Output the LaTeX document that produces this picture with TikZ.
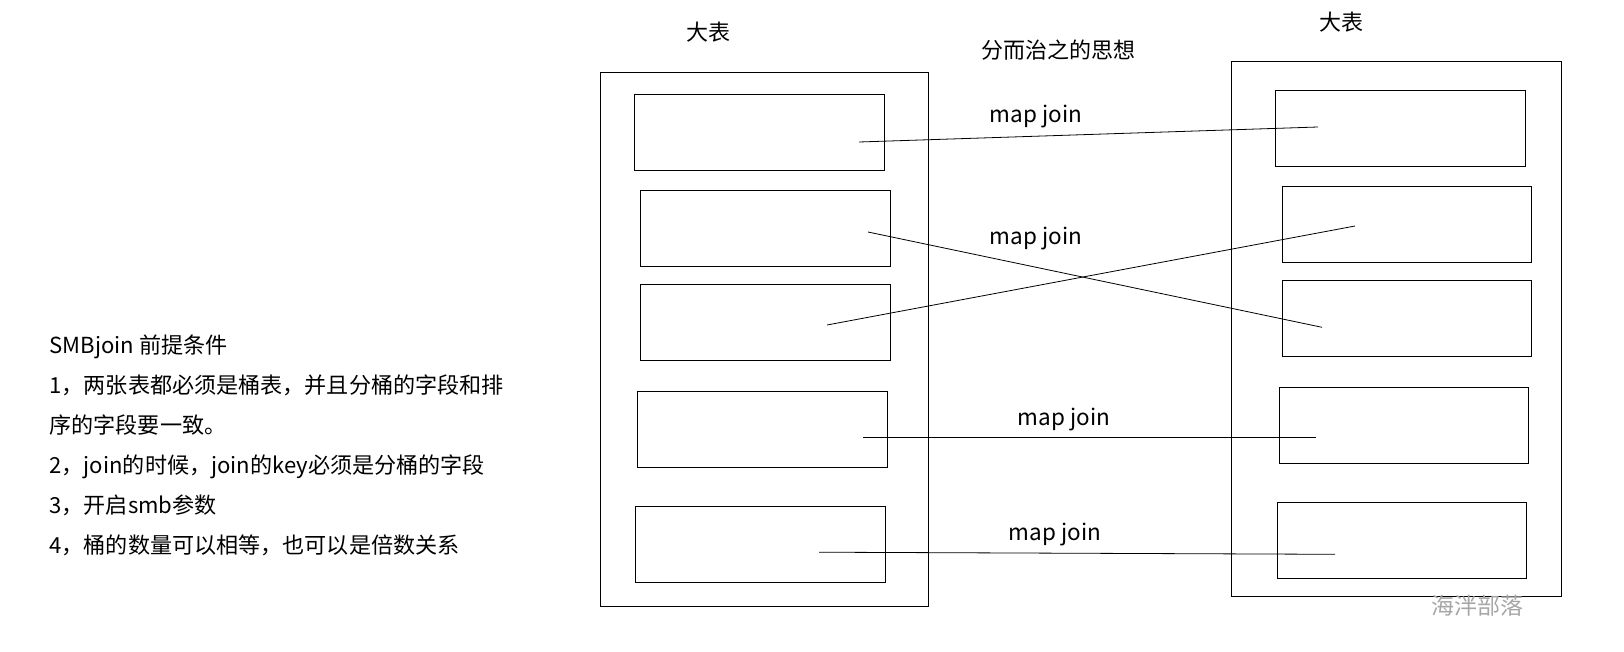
\documentclass[tikz,border=0pt]{standalone}
\usepackage{fontspec}
\setmainfont{Noto Sans CJK SC}
\usetikzlibrary{positioning}

\begin{document}
\begin{tikzpicture}[
  x=1pt, y=-1pt,
  font=\fontsize{22}{26}\selectfont,
  bigtable/.style={draw, line width=1pt, inner sep=0pt, outer sep=0pt,
                   anchor=north west},
  bucket/.style={draw, line width=1pt, inner sep=0pt, outer sep=0pt,
                 anchor=north west, minimum width=249.5pt, minimum height=76pt},
  joinline/.style={line width=0.8pt},
  joinlabel/.style={anchor=base, font=\fontsize{22.5}{26}\selectfont},
  cond/.style={anchor=base west, font=\fontsize{22.1}{26}\selectfont}
]
\fill[white] (0,0) rectangle (1624,652);
\useasboundingbox (0,0) rectangle (1624,652);

% the two big tables
\node[bigtable, minimum width=327.5pt, minimum height=534pt] (big1) at (600.5,72.5) {};
\node[bigtable, minimum width=330pt, minimum height=534.5pt] (big2) at (1231,62) {};
\node (title1) at (708,31.7) {大表};
\node (title2) at (1341.6,21.7) {大表};
\node (idea) at (1058.5,50.3) {分而治之的思想};

% buckets
\foreach \i/\x/\y in {1/634.5/94.3, 2/640.5/190.5, 3/640.5/284.5, 4/637.5/391.4, 5/635.5/506.4}
  \node[bucket] (a\i) at (\x,\y) {};
\foreach \i/\x/\y in {1/1275.5/90.2, 2/1282/186.4, 3/1282/280, 4/1279/387.2, 5/1277/502.2}
  \node[bucket] (b\i) at (\x,\y) {};

% join ends
\coordinate (a1p) at (859,142);   \coordinate (b1p) at (1318,127);
\coordinate (a2p) at (868,232);   \coordinate (b3p) at (1322,327.3);
\coordinate (a3p) at (827,325);   \coordinate (b2p) at (1355,226);
\coordinate (a4p) at (863,437.2); \coordinate (b4p) at (1316,437.2);
\coordinate (a5p) at (819,552.2); \coordinate (b5p) at (1335,554.3);

\draw[joinline] (a1p) -- (b1p);
\draw[joinline] (a2p) -- (b3p);
\draw[joinline] (a3p) -- (b2p);
\draw[joinline] (a4p) -- (b4p);
\draw[joinline] (a5p) -- (b5p);

\node[joinlabel] (j1) at (1036,123) {map join};
\node[joinlabel] (j2) at (1036,245) {map join};
\node[joinlabel] (j4) at (1064,425.7) {map join};
\node[joinlabel] (j5) at (1055,540.3) {map join};

% conditions
\foreach \n/\t in {0/SMBjoin 前提条件,
                   1/1，两张表都必须是桶表，并且分桶的字段和排,
                   2/序的字段要一致。,
                   3/2，join的时候，join的key必须是分桶的字段,
                   4/3，开启smb参数,
                   5/4，桶的数量可以相等，也可以是倍数关系}
  \node[cond] (cond\n) at (46,{353+40*\n}) {\t};

\node[font=\fontsize{23}{26}\selectfont, text=black!35] (mark) at (1477,606) {海泮部落};
\end{tikzpicture}
\end{document}
